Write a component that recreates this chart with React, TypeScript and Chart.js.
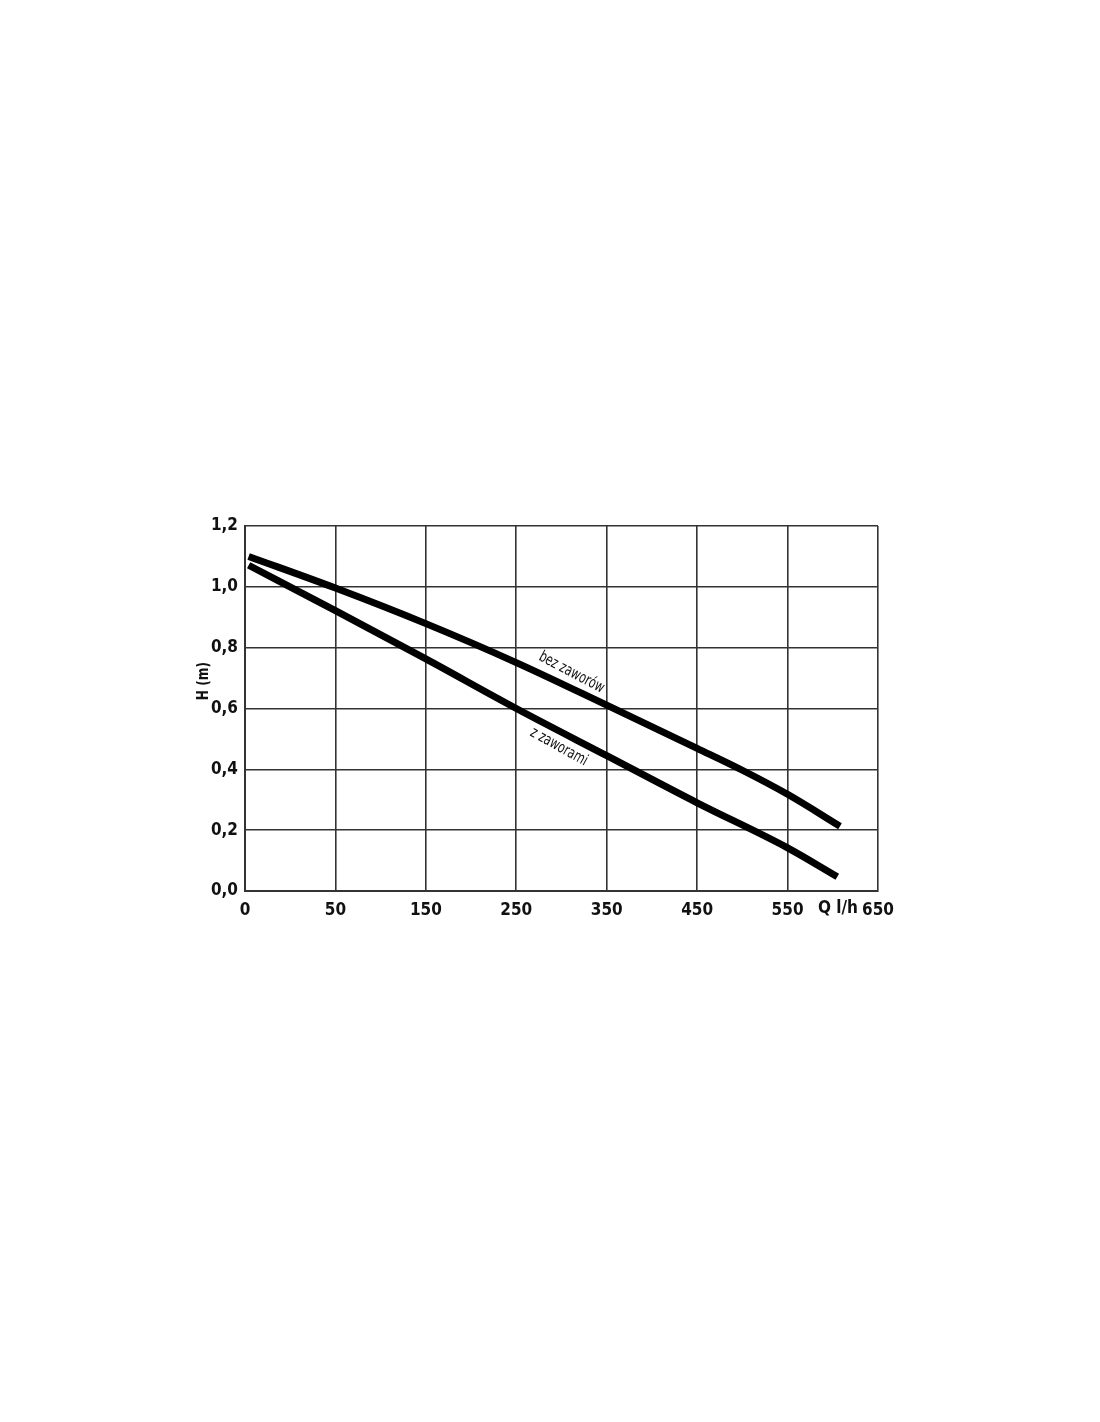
import React, { useEffect, useRef } from "react";
import { Chart, registerables } from "chart.js";

Chart.register(...registerables);

// X axis tick labels (l/h) — the axis is drawn with equal columns per label
const xTickLabels = ["0", "50", "150", "250", "350", "450", "550", "650"];
const xTickValues = [0, 50, 150, 250, 350, 450, 550, 650];

// Series: "bez zaworów"
const bezQ = [2, 50, 150, 250, 350, 450, 500, 550, 608];
const bezH = [1.1, 0.996, 0.879, 0.751, 0.611, 0.469, 0.397, 0.318, 0.213];

// Series: "z zaworami"
const zQ = [2, 50, 150, 250, 350, 450, 550, 605];
const zH = [1.071, 0.922, 0.763, 0.6, 0.445, 0.29, 0.142, 0.047];

const yTicks = [0, 0.2, 0.4, 0.6, 0.8, 1.0, 1.2];

const FONT = "'Liberation Sans Narrow', 'DejaVu Sans Condensed', 'Liberation Sans', sans-serif";

// map Q (l/h) to column position on the equal-spaced axis
function qToPos(q: number): number {
  for (let i = 0; i < xTickValues.length - 1; i++) {
    const a = xTickValues[i];
    const b = xTickValues[i + 1];
    if (q <= b || i === xTickValues.length - 2) {
      return i + (q - a) / (b - a);
    }
  }
  return 0;
}

const annotations = {
  id: "annotations",
  afterDatasetsDraw(chart: any) {
    const { ctx, chartArea, scales } = chart;
    const xs = scales.x;
    const ys = scales.y;
    ctx.save();
    ctx.fillStyle = "#111";
    // y-axis title
    ctx.save();
    ctx.translate(204, (ys.getPixelForValue(0.6) + ys.getPixelForValue(0.8)) / 2 + 3);
    ctx.rotate(-Math.PI / 2);
    ctx.scale(0.9, 1);
    ctx.font = `bold 15px ${FONT}`;
    ctx.textAlign = "center";
    ctx.textBaseline = "middle";
    ctx.fillText("H (m)", 0, 0);
    ctx.restore();
    // x-axis unit
    ctx.font = `bold 17px ${FONT}`;
    ctx.textAlign = "right";
    ctx.textBaseline = "middle";
    ctx.fillText("Q l/h", chartArea.right - 20, chartArea.bottom + 18);
    // curve labels
    const lab = (text: string, q: number, h: number, deg: number) => {
      ctx.save();
      ctx.translate(xs.getPixelForValue(qToPos(q)), ys.getPixelForValue(h));
      ctx.rotate((deg * Math.PI) / 180);
      ctx.scale(0.82, 1.05);
      ctx.font = `15px ${FONT}`;
      ctx.textAlign = "center";
      ctx.textBaseline = "middle";
      ctx.fillText(text, 0, 0);
      ctx.restore();
    };
    lab("bez zaworów", 311, 0.718, 28);
    lab("z zaworami", 297, 0.474, 29);
    ctx.restore();
  },
};

export default function App() {
  const ref = useRef<HTMLCanvasElement | null>(null);
  useEffect(() => {
    if (!ref.current) return;
    const chart = new Chart(ref.current, {
      type: "line",
      data: {
        datasets: [
          {
            label: "bez zaworów",
            data: bezQ.map((q, i) => ({ x: qToPos(q), y: bezH[i] })),
            borderColor: "#000",
            borderWidth: 7,
            pointRadius: 0,
            cubicInterpolationMode: "monotone",
            borderCapStyle: "butt",
          },
          {
            label: "z zaworami",
            data: zQ.map((q, i) => ({ x: qToPos(q), y: zH[i] })),
            borderColor: "#000",
            borderWidth: 7,
            pointRadius: 0,
            cubicInterpolationMode: "monotone",
            borderCapStyle: "butt",
          },
        ],
      },
      options: {
        animation: false,
        responsive: false,
        maintainAspectRatio: false,
        layout: { padding: { left: 180, right: 222, top: 526, bottom: 491 } },
        plugins: { legend: { display: false }, tooltip: { enabled: false } },
        scales: {
          x: {
            type: "linear",
            min: 0,
            max: xTickLabels.length - 1,
            afterFit: (s: any) => { s.height = 40; },
            grid: { color: "#333", lineWidth: 1.6, drawTicks: false },
            border: { color: "#333", width: 2 },
            ticks: {
              stepSize: 1,
              padding: 9,
              color: "#111",
              font: { family: FONT, size: 17, weight: "bold" },
              callback: (v: any) => xTickLabels[Math.round(v)] ?? "",
            },
          },
          y: {
            type: "linear",
            min: yTicks[0],
            max: yTicks[yTicks.length - 1],
            afterFit: (s: any) => { s.width = 65; },
            grid: { color: "#333", lineWidth: 1.6, drawTicks: false },
            border: { color: "#333", width: 2 },
            ticks: {
              stepSize: 0.2,
              padding: 7,
              color: "#111",
              font: { family: FONT, size: 17, weight: "bold" },
              callback: (v: any) => Number(v).toFixed(1).replace(".", ","),
            },
          },
        },
      },
      plugins: [annotations],
    } as any);
    return () => chart.destroy();
  }, []);
  return (
    <div style={{ position: "absolute", left: 0, top: 0, width: 1100, height: 1422, background: "#fff" }}>
      <canvas ref={ref} width={1100} height={1422} style={{ display: "block", width: 1100, height: 1422 }} />
    </div>
  );
}
